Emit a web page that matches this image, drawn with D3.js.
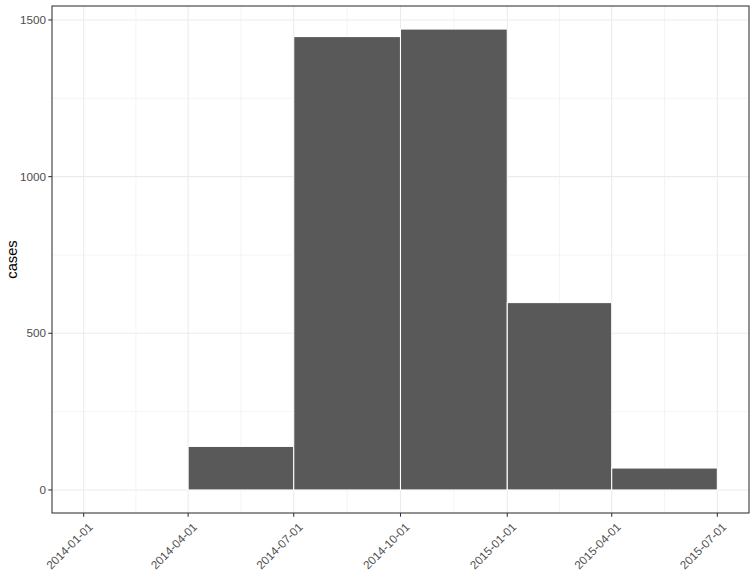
<!DOCTYPE html>
<html>
<head>
<meta charset="utf-8">
<script src="https://cdn.jsdelivr.net/npm/d3@7"></script>
<style>
  body { margin: 0; background: #fff; }
  text { font-family: "Liberation Sans", Arial, sans-serif; }
</style>
</head>
<body>
<svg id="chart" width="756" height="588"></svg>
<script>
// quarterly bins
var binStarts = ["2014-01-01", "2014-04-01", "2014-07-01", "2014-10-01", "2015-01-01", "2015-04-01"];
var binEnds   = ["2014-04-01", "2014-07-01", "2014-10-01", "2015-01-01", "2015-04-01", "2015-07-01"];
var cases     = [0, 139, 1447, 1471, 598, 70];
var xTicks    = ["2014-01-01", "2014-04-01", "2014-07-01", "2014-10-01", "2015-01-01", "2015-04-01", "2015-07-01"];
var yTicks    = [0, 500, 1000, 1500];

var parse = d3.utcParse("%Y-%m-%d");
var bins = binStarts.map(function(s, i) {
  return { x0: parse(s), x1: parse(binEnds[i]), n: cases[i] };
});

var svg = d3.select("#chart");
var pL = 52, pR = 749, pT = 6, pB = 513;

var t0 = parse(xTicks[0]), t1 = parse(xTicks[xTicks.length - 1]);
var span = t1 - t0;
var x = d3.scaleUtc()
    .domain([new Date(+t0 - span * 0.05), new Date(+t1 + span * 0.05)])
    .range([pL, pR]);

var ymax = d3.max(cases);
var y = d3.scaleLinear()
    .domain([-ymax * 0.05, ymax * 1.05])
    .range([pB, pT]);

// panel background
svg.append("rect")
    .attr("x", pL).attr("y", pT)
    .attr("width", pR - pL).attr("height", pB - pT)
    .attr("fill", "#fff");

// minor grid
var xMinor = [];
for (var i = 0; i < xTicks.length - 1; i++) {
  var a = parse(xTicks[i]), b = parse(xTicks[i + 1]);
  xMinor.push(new Date((+a + +b) / 2));
}
var yMinor = [250, 750, 1250];

var grid = svg.append("g");
grid.selectAll(".xminor").data(xMinor).enter().append("line")
    .attr("x1", function(d) { return x(d); }).attr("x2", function(d) { return x(d); })
    .attr("y1", pT).attr("y2", pB)
    .attr("stroke", "#ebebeb").attr("stroke-width", 0.55);
grid.selectAll(".yminor").data(yMinor).enter().append("line")
    .attr("y1", function(d) { return y(d); }).attr("y2", function(d) { return y(d); })
    .attr("x1", pL).attr("x2", pR)
    .attr("stroke", "#ebebeb").attr("stroke-width", 0.55);
grid.selectAll(".xmajor").data(xTicks).enter().append("line")
    .attr("x1", function(d) { return x(parse(d)); }).attr("x2", function(d) { return x(parse(d)); })
    .attr("y1", pT).attr("y2", pB)
    .attr("stroke", "#ebebeb").attr("stroke-width", 1.07);
grid.selectAll(".ymajor").data(yTicks).enter().append("line")
    .attr("y1", function(d) { return y(d); }).attr("y2", function(d) { return y(d); })
    .attr("x1", pL).attr("x2", pR)
    .attr("stroke", "#ebebeb").attr("stroke-width", 1.07);

// bars
svg.append("g").selectAll("rect").data(bins).enter().append("rect")
    .attr("x", function(d) { return x(d.x0); })
    .attr("width", function(d) { return x(d.x1) - x(d.x0); })
    .attr("y", function(d) { return y(d.n); })
    .attr("height", function(d) { return y(0) - y(d.n); })
    .attr("fill", "#595959")
    .attr("stroke", "#fff")
    .attr("stroke-width", 1.07);

// panel border
svg.append("rect")
    .attr("x", pL).attr("y", pT)
    .attr("width", pR - pL).attr("height", pB - pT)
    .attr("fill", "none").attr("stroke", "#333").attr("stroke-width", 1.07);

// y axis
var yAxis = svg.append("g");
yAxis.selectAll("line").data(yTicks).enter().append("line")
    .attr("x1", pL - 3.7).attr("x2", pL)
    .attr("y1", function(d) { return y(d); }).attr("y2", function(d) { return y(d); })
    .attr("stroke", "#333").attr("stroke-width", 1.07);
yAxis.selectAll("text").data(yTicks).enter().append("text")
    .attr("x", pL - 6)
    .attr("y", function(d) { return y(d); })
    .attr("dy", "0.35em")
    .attr("text-anchor", "end")
    .attr("font-size", "11.7px")
    .attr("fill", "#4d4d4d")
    .text(function(d) { return d; });

// x axis
var xAxis = svg.append("g");
xAxis.selectAll("line").data(xTicks).enter().append("line")
    .attr("x1", function(d) { return x(parse(d)); }).attr("x2", function(d) { return x(parse(d)); })
    .attr("y1", pB).attr("y2", pB + 3.7)
    .attr("stroke", "#333").attr("stroke-width", 1.07);
xAxis.selectAll("text").data(xTicks).enter().append("text")
    .attr("transform", function(d) { return "translate(" + (x(parse(d)) + 4) + "," + (pB + 9) + ") rotate(-45)"; })
    .attr("text-anchor", "end")
    .attr("dy", "0.7em")
    .attr("font-size", "11.7px")
    .attr("fill", "#4d4d4d")
    .text(function(d) { return d; });

// y title
svg.append("text")
    .attr("transform", "translate(17," + ((pT + pB) / 2) + ") rotate(-90)")
    .attr("text-anchor", "middle")
    .attr("font-size", "14.7px")
    .attr("fill", "#000")
    .text("cases");
</script>
</body>
</html>
